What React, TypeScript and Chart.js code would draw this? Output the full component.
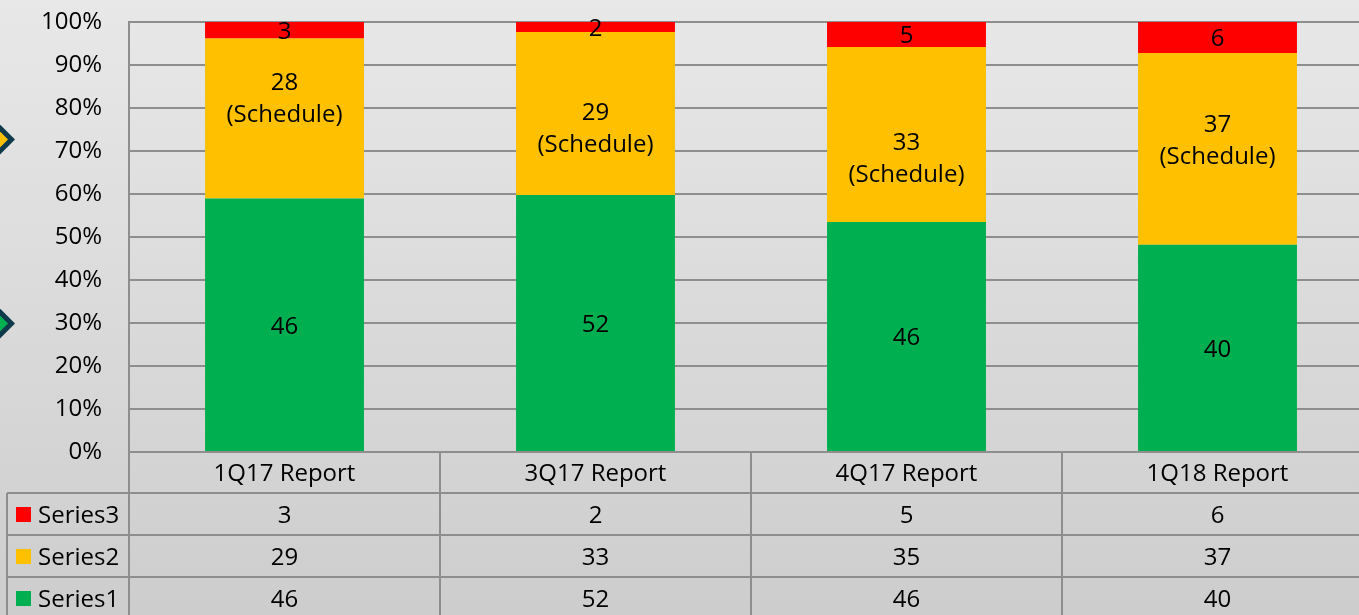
import React, { useEffect, useRef } from "react";
import { Chart, registerables } from "chart.js";

Chart.register(...registerables);

const categories = ["1Q17 Report", "3Q17 Report", "4Q17 Report", "1Q18 Report"];
const series1 = [46, 52, 46, 40];
const series2 = [29, 33, 35, 37];
const series3 = [3, 2, 5, 6];
const series2BarLabels = ["28", "29", "33", "37"];
const scheduleNote = "(Schedule)";
const seriesNames = ["Series1", "Series2", "Series3"];
const seriesColors = ["#00B050", "#FFC000", "#FF0000"];

const FONT = "'Open Sans', 'Noto Sans', sans-serif";
const FS = 24;
const LINE = "#8E8E8E";
const TY = 2; // text baseline correction

const totals = categories.map((_, i) => series1[i] + series2[i] + series3[i]);
const pct = (arr: number[]) => arr.map((v, i) => (v / totals[i]) * 100);

const CANVAS_W = 1400;
const CANVAS_H = 615;

const bgPlugin = {
  id: "bgPlugin",
  beforeDraw(chart: any) {
    const { ctx, width, height } = chart;
    ctx.save();
    const g = ctx.createLinearGradient(0, 0, 0, height);
    g.addColorStop(0, "#E8E8E8");
    g.addColorStop(1, "#CDCDCD");
    ctx.fillStyle = g;
    ctx.fillRect(0, 0, width, height);
    const diamond = (cx: number, cy: number, r: number, color: string) => {
      ctx.beginPath();
      ctx.moveTo(cx, cy - r);
      ctx.lineTo(cx + r, cy);
      ctx.lineTo(cx, cy + r);
      ctx.lineTo(cx - r, cy);
      ctx.closePath();
      ctx.fillStyle = color;
      ctx.fill();
    };
    diamond(-3, 139.5, 18, "#0E3A4C");
    diamond(-3, 139.5, 11, "#FFC000");
    diamond(-3, 323.5, 18, "#0E3A4C");
    diamond(-3, 323.5, 11, "#00B050");
    ctx.restore();
  },
};

const labelPlugin = {
  id: "labelPlugin",
  afterDatasetsDraw(chart: any, _args: any, opts: any) {
    const { ctx } = chart;
    ctx.save();
    ctx.font = `${FS}px ${FONT}`;
    ctx.fillStyle = "#000";
    ctx.textAlign = "center";
    ctx.textBaseline = "middle";
    const raw = [series1, series2, series3];
    chart.data.datasets.forEach((_ds: any, di: number) => {
      const meta = chart.getDatasetMeta(di);
      meta.data.forEach((bar: any, i: number) => {
        const cy = (bar.y + bar.base) / 2 + TY;
        if (di === 1) {
          const nudge = (opts.scheduleNudge || [])[i] || 0;
          const c = cy + nudge;
          ctx.fillText(series2BarLabels[i], bar.x, c - 16);
          ctx.fillText(scheduleNote, bar.x, c + 16);
        } else {
          ctx.fillText(String(raw[di][i]), bar.x, cy);
        }
      });
    });
    ctx.restore();
  },
};

const tablePlugin = {
  id: "tablePlugin",
  afterDraw(chart: any) {
    const { ctx, chartArea } = chart;
    const xs = chart.scales.x;
    const half = (xs.getPixelForValue(1) - xs.getPixelForValue(0)) / 2;
    const top = chartArea.bottom;
    const rowH = [41, 42, 42, 42];
    const rowTops = [top];
    rowH.forEach((h) => rowTops.push(rowTops[rowTops.length - 1] + h));
    const legendLeft = 7;
    const right = xs.getPixelForValue(categories.length - 1) + half;
    ctx.save();
    ctx.strokeStyle = LINE;
    ctx.lineWidth = 2;
    const hline = (x1: number, x2: number, y: number) => {
      ctx.beginPath();
      ctx.moveTo(x1, y);
      ctx.lineTo(x2, y);
      ctx.stroke();
    };
    const vline = (x: number, y1: number, y2: number) => {
      ctx.beginPath();
      ctx.moveTo(x, y1);
      ctx.lineTo(x, y2);
      ctx.stroke();
    };
    hline(chartArea.left, right, rowTops[0]);
    for (let r = 1; r < 4; r++) hline(legendLeft, right, rowTops[r]);
    vline(legendLeft, rowTops[1], CANVAS_H);
    vline(chartArea.left, chartArea.top, CANVAS_H);
    categories.forEach((_c, i) => {
      vline(xs.getPixelForValue(i) + half, rowTops[0], CANVAS_H);
    });

    ctx.font = `${FS}px ${FONT}`;
    ctx.fillStyle = "#000";
    ctx.textBaseline = "middle";
    ctx.textAlign = "center";
    categories.forEach((c, i) => {
      ctx.fillText(c, xs.getPixelForValue(i), (rowTops[0] + rowTops[1]) / 2 + TY);
    });
    const rows = [
      { name: seriesNames[2], data: series3, color: seriesColors[2] },
      { name: seriesNames[1], data: series2, color: seriesColors[1] },
      { name: seriesNames[0], data: series1, color: seriesColors[0] },
    ];
    rows.forEach((row, r) => {
      const cy = (rowTops[r + 1] + rowTops[r + 2]) / 2;
      ctx.textAlign = "center";
      row.data.forEach((v, i) => {
        ctx.fillText(String(v), xs.getPixelForValue(i), cy + TY);
      });
      ctx.fillStyle = row.color;
      ctx.fillRect(16, cy - 7, 15, 15);
      ctx.fillStyle = "#000";
      ctx.textAlign = "left";
      ctx.fillText(row.name, 38, cy + TY);
    });
    ctx.restore();
  },
};

export default function App() {
  const ref = useRef<HTMLCanvasElement | null>(null);
  useEffect(() => {
    if (!ref.current) return;
    const chart = new Chart(ref.current, {
      type: "bar",
      data: {
        labels: categories,
        datasets: [
          { label: seriesNames[0], data: pct(series1), backgroundColor: seriesColors[0] },
          { label: seriesNames[1], data: pct(series2), backgroundColor: seriesColors[1] },
          { label: seriesNames[2], data: pct(series3), backgroundColor: seriesColors[2] },
        ],
      },
      options: {
        responsive: false,
        animation: false,
        devicePixelRatio: 1,
        layout: { padding: { left: 0, top: 22, right: CANVAS_W - 1373, bottom: CANVAS_H - 452 } },
        datasets: { bar: { categoryPercentage: 1, barPercentage: 0.511 } },
        plugins: {
          legend: { display: false },
          tooltip: { enabled: false },
          labelPlugin: { scheduleNudge: [-21, 14, 23, -10] },
        } as any,
        scales: {
          x: { stacked: true, display: false },
          y: {
            stacked: true,
            min: 0,
            max: 100,
            afterFit: (s: any) => {
              s.width = 129;
              s.paddingTop = 0;
              s.paddingBottom = 0;
            },
            ticks: {
              stepSize: 10,
              padding: 27,
              color: "#000",
              font: { family: FONT, size: FS },
              callback: (v: any) => `${v}%`,
            },
            grid: { color: LINE, lineWidth: 2, drawTicks: false },
            border: { display: true, color: LINE, width: 2 },
          },
        },
      },
      plugins: [bgPlugin, labelPlugin, tablePlugin],
    });
    return () => chart.destroy();
  }, []);
  return (
    <div style={{ position: "fixed", left: 0, top: 0, width: 1359, height: 615, overflow: "hidden" }}>
      <canvas ref={ref} width={CANVAS_W} height={CANVAS_H} style={{ display: "block" }} />
    </div>
  );
}
